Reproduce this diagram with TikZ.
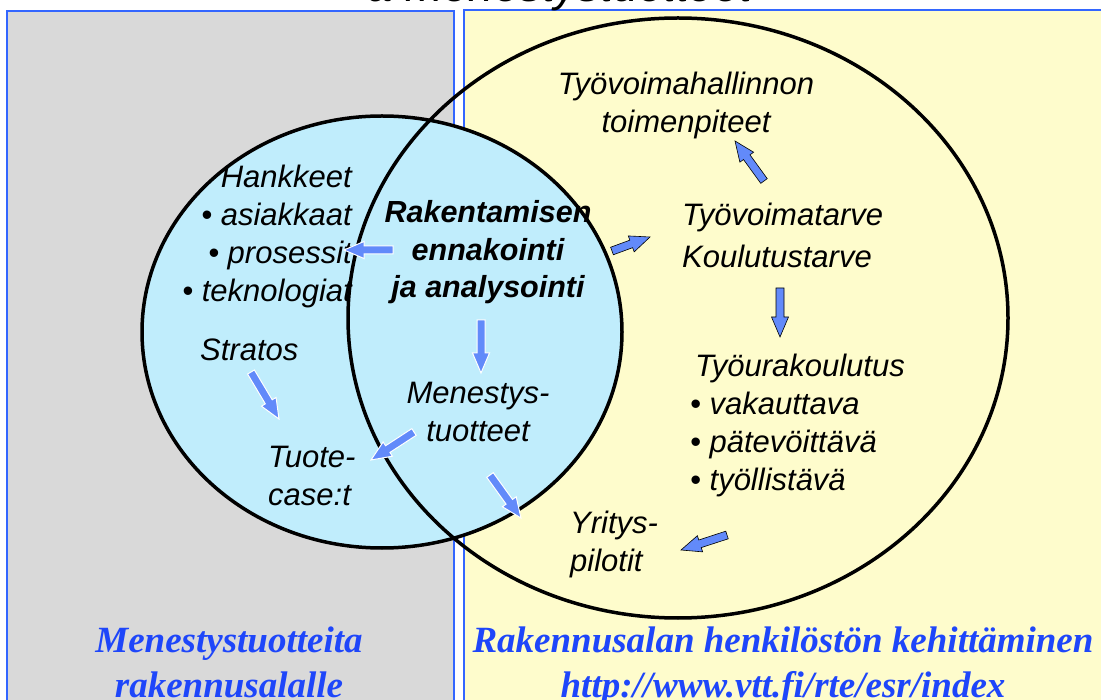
\documentclass[tikz,border=0pt]{standalone}
\usepackage{fontspec}
\setmainfont{Liberation Sans}
\newfontfamily\captionserif{Liberation Serif}
\usetikzlibrary{calc}

\definecolor{panelgray}{RGB}{217,217,217}
\definecolor{panelyellow}{RGB}{254,252,204}
\definecolor{cyanfill}{RGB}{192,237,252}
\definecolor{frameblue}{RGB}{51,102,255}
\definecolor{arrowblue}{RGB}{98,138,250}
\definecolor{captionblue}{RGB}{30,70,250}

\tikzset{
  lbl/.style={font=\fontsize{31}{38}\selectfont\itshape, inner sep=0pt, anchor=base},
  boldlbl/.style={font=\fontsize{30.5}{37.5}\selectfont\bfseries\itshape, inner sep=0pt, anchor=base},
  caption/.style={font=\captionserif\fontsize{37}{45}\selectfont\bfseries\itshape,
    text=captionblue, inner sep=0pt, anchor=base, align=center},
  panel/.style={draw=frameblue, line width=1.5pt},
  ring/.style={draw=black, line width=3.5pt},
  darkedge/.style={fill=arrowblue, draw=black, line width=0.6pt},
  lightedge/.style={fill=arrowblue, draw=white, line width=1pt},
}

% block arrow: #1 style, #2 tail coordinate, #3 tip coordinate
\newcommand\blockarrow[3]{%
  \path (#2) coordinate (ba-t) (#3) coordinate (ba-p);
  \path ($(ba-p)!20pt!(ba-t)$) coordinate (ba-h);
  \filldraw[#1, line join=miter]
    ($(ba-t)!4pt!90:(ba-p)$) -- ($(ba-h)!4pt!90:(ba-p)$) -- ($(ba-h)!8.5pt!90:(ba-p)$)
    -- (ba-p) -- ($(ba-h)!8.5pt!-90:(ba-p)$) -- ($(ba-h)!4pt!-90:(ba-p)$)
    -- ($(ba-t)!4pt!-90:(ba-p)$) -- cycle;
}

\begin{document}
\begin{tikzpicture}[x=1pt, y=-1pt]
  \useasboundingbox (0,0) rectangle (1101,700);
  \clip (0,0) rectangle (1101,700);

  % two panels
  \fill[white] (0,0) rectangle (1101,700);
  \filldraw[panel, fill=panelgray] (7,11) rectangle (454,710);
  \filldraw[panel, fill=panelyellow] (464,10) rectangle (1110,710);

  % heading (runs off the top edge)
  \node[lbl, font=\fontsize{45.5}{50}\selectfont\itshape] (heading) at (560,1.5) {a menestystuotteet};

  % the two overlapping circles
  \filldraw[ring, fill=cyanfill] (382,332) ellipse [x radius=240pt, y radius=216pt];
  \draw[ring] (678,318) ellipse [x radius=330pt, y radius=300pt];

  % labels in the left circle (multi-line nodes sit on the baseline of their last line)
  \node[lbl, align=right, anchor=base east] (hank) at (352,302)
    {Hankkeet\\\textbullet\ asiakkaat\\\textbullet\ prosessit\\\textbullet\ teknologiat};
  \node[lbl, anchor=base west] (strat) at (200,361) {Stratos};
  \node[lbl, align=left, anchor=base west] (tuote) at (268,505) {Tuote-\\case:t};

  % labels in the overlap
  \node[boldlbl, align=center] (rak) at (488,298) {Rakentamisen\\ennakointi\\ja analysointi};
  \node[lbl, align=center] (menes) at (478,442) {Menestys-\\tuotteet};

  % labels in the right circle
  \node[lbl, align=center] (tyohal) at (686,133) {Työvoimahallinnon\\toimenpiteet};
  \node[lbl, align=left, anchor=base west] (tarve) at (682,268) {Työvoimatarve\\[4pt]Koulutustarve};
  \node[lbl, align=left, anchor=base west] (ura) at (690,490)
    {\hspace*{5pt}Työurakoulutus\\\textbullet\ vakauttava\\\textbullet\ pätevöittävä\\\textbullet\ työllistävä};
  \node[lbl, align=left, anchor=base west] (yrit) at (570,571) {Yritys-\\pilotit};

  % captions
  \node[caption] (capL) at (229,697) {Menestystuotteita\\rakennusalalle};
  \node[caption] (capR) at (783,697) {Rakennusalan henkilöstön kehittäminen\\http://www.vtt.fi/rte/esr/index};

  % arrow end points
  \coordinate (a1t) at (393,250); \coordinate (a1p) at (344,250);
  \coordinate (a2t) at (612,251); \coordinate (a2p) at (650,237);
  \coordinate (a3t) at (764,181); \coordinate (a3p) at (735,141);
  \coordinate (a4t) at (780,288); \coordinate (a4p) at (780,337);
  \coordinate (a5t) at (481,320); \coordinate (a5p) at (481,373);
  \coordinate (a6t) at (414,432); \coordinate (a6p) at (371,460);
  \coordinate (a7t) at (490,475); \coordinate (a7p) at (521,518);
  \coordinate (a8t) at (251,372); \coordinate (a8p) at (279,419);
  \coordinate (a9t) at (727,535); \coordinate (a9p) at (681,550);

  \blockarrow{lightedge}{a1t}{a1p}
  \blockarrow{darkedge}{a2t}{a2p}
  \blockarrow{darkedge}{a3t}{a3p}
  \blockarrow{darkedge}{a4t}{a4p}
  \blockarrow{lightedge}{a5t}{a5p}
  \blockarrow{lightedge}{a6t}{a6p}
  \blockarrow{lightedge}{a7t}{a7p}
  \blockarrow{lightedge}{a8t}{a8p}
  \blockarrow{darkedge}{a9t}{a9p}
\end{tikzpicture}
\end{document}
